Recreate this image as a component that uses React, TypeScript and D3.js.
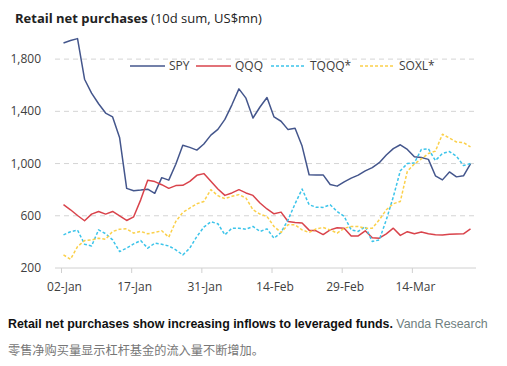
import React from 'react';
import * as d3 from 'd3';

// trading days, 02-Jan to 26-Mar 2024
const dates = [
  '2024-01-02', '2024-01-03', '2024-01-04', '2024-01-05', '2024-01-08', '2024-01-09', '2024-01-10', '2024-01-11', '2024-01-12', '2024-01-16',
  '2024-01-17', '2024-01-18', '2024-01-19', '2024-01-22', '2024-01-23', '2024-01-24', '2024-01-25', '2024-01-26', '2024-01-29', '2024-01-30',
  '2024-01-31', '2024-02-01', '2024-02-02', '2024-02-05', '2024-02-06', '2024-02-07', '2024-02-08', '2024-02-09', '2024-02-12', '2024-02-13',
  '2024-02-14', '2024-02-15', '2024-02-16', '2024-02-20', '2024-02-21', '2024-02-22', '2024-02-23', '2024-02-26', '2024-02-27', '2024-02-28',
  '2024-02-29', '2024-03-01', '2024-03-04', '2024-03-05', '2024-03-06', '2024-03-07', '2024-03-08', '2024-03-11', '2024-03-12', '2024-03-13',
  '2024-03-14', '2024-03-15', '2024-03-18', '2024-03-19', '2024-03-20', '2024-03-21', '2024-03-22', '2024-03-25', '2024-03-26',
];

const spy = [
  1924, 1942, 1957, 1646, 1539, 1458, 1387, 1357, 1197, 810,
  792, 797, 804, 772, 892, 873, 995, 1140, 1124, 1103,
  1150, 1218, 1262, 1338, 1450, 1572, 1501, 1349, 1433, 1506,
  1357, 1324, 1260, 1270, 1134, 914, 913, 913, 840, 827,
  860, 888, 911, 944, 969, 1007, 1065, 1114, 1144, 1108,
  1052, 1047, 1032, 906, 875, 936, 898, 906, 998,
];
const qqq = [
  685, 646, 602, 562, 613, 633, 613, 633, 600, 564,
  592, 722, 872, 862, 838, 810, 831, 833, 864, 910,
  923, 864, 805, 756, 775, 800, 775, 756, 698, 652,
  615, 628, 556, 549, 544, 490, 485, 456, 492, 508,
  505, 446, 446, 485, 431, 428, 462, 505, 450, 478,
  462, 475, 462, 455, 452, 458, 460, 462, 500,
];
const tqqq = [
  454, 478, 490, 382, 369, 492, 463, 415, 326, 352,
  385, 410, 352, 390, 382, 369, 339, 300, 352, 441,
  513, 554, 539, 454, 505, 505, 497, 518, 480, 500,
  428, 472, 569, 692, 805, 685, 665, 664, 685, 633,
  595, 492, 480, 518, 403, 415, 569, 745, 945, 1000,
  1005, 1108, 1113, 1023, 1077, 1092, 1056, 985, 1000,
];
const soxl = [
  300, 267, 364, 410, 415, 428, 420, 480, 497, 500,
  467, 480, 462, 472, 485, 436, 556, 626, 659, 692,
  710, 800, 754, 731, 749, 762, 736, 646, 613, 595,
  518, 472, 531, 531, 492, 472, 500, 510, 492, 467,
  505, 518, 518, 505, 505, 569, 646, 692, 710, 941,
  997, 1036, 1077, 1095, 1225, 1195, 1165, 1160, 1128,
];

const yTicks = [200, 600, 1000, 1400, 1800];
const xTickIdx = [0, 10, 20, 30, 40, 50];

const series = [
  { name: 'SPY', values: spy, color: '#44568c', dash: null },
  { name: 'QQQ', values: qqq, color: '#d9434b', dash: null },
  { name: 'TQQQ*', values: tqqq, color: '#3cc4ea', dash: '3,2' },
  { name: 'SOXL*', values: soxl, color: '#fbd04a', dash: '3,2' },
];

const legendX = [130, 196, 271, 360];

export default function App() {
  const x = d3.scaleLinear().domain([0, dates.length - 1]).range([63.5, 470.5]);
  const y = d3.scaleLinear().domain([200, 2000]).range([268, 33]);
  const fmt = d3.timeFormat('%d-%b');
  const parse = d3.timeParse('%Y-%m-%d');

  const mkLine = (vals: number[]) =>
    d3.line<number>().x((_, i) => x(i)).y(d => y(d))(vals) || '';

  return (
    <svg width={507} height={366} style={{ position: 'absolute', left: 0, top: 0, background: '#fff' }}>
      <text x={15} y={23} fontFamily="Open Sans" fontSize={13} fill="#222">
        <tspan fontWeight="bold">Retail net purchases</tspan>
        <tspan> (10d sum, US$mn)</tspan>
      </text>

      {/* grid */}
      {yTicks.slice(1).map(t => (
        <line key={t} x1={55} x2={476} y1={y(t)} y2={y(t)} stroke="#d4d4d4" strokeDasharray="5,4" />
      ))}
      <line x1={55} x2={476} y1={y(200)} y2={y(200)} stroke="#d0d0d0" />
      {xTickIdx.map(i => (
        <line key={i} x1={x(i) - 2} x2={x(i) - 2} y1={y(200)} y2={y(200) + 5} stroke="#d0d0d0" />
      ))}

      {yTicks.map(t => (
        <text key={t} x={41} y={y(t) + 4} textAnchor="end" fontFamily="Open Sans" fontSize={12} fill="#404040">
          {d3.format(',')(t)}
        </text>
      ))}
      {xTickIdx.map(i => (
        <text key={i} x={x(i) + 1} y={291} textAnchor="middle" fontFamily="Open Sans" fontSize={12} fill="#404040">
          {fmt(parse(dates[i]) as Date)}
        </text>
      ))}

      {series.map(s => (
        <path key={s.name} d={mkLine(s.values)} fill="none" stroke={s.color} strokeWidth={1.5}
          strokeDasharray={s.dash || undefined} strokeLinejoin="round" />
      ))}

      {/* legend */}
      {series.map((s, k) => (
        <g key={s.name} transform={`translate(${legendX[k]},66)`}>
          <line x1={0} x2={35} y1={0} y2={0} stroke={s.color} strokeWidth={1.5} strokeDasharray={s.dash || undefined} />
          <text x={39} y={4} fontFamily="Open Sans" fontSize={12} fill="#404040">{s.name}</text>
        </g>
      ))}

      <text x={8} y={328} fontFamily="Liberation Sans" fontSize={12.4} fill="#111">
        <tspan fontWeight="bold">Retail net purchases show increasing inflows to leveraged funds.</tspan>
        <tspan fill="#6f7f80"> Vanda Research</tspan>
      </text>
      <text x={8} y={355} fontFamily="Noto Sans CJK SC" fontSize={12.2} fill="#777">
        零售净购买量显示杠杆基金的流入量不断增加。
      </text>
    </svg>
  );
}
